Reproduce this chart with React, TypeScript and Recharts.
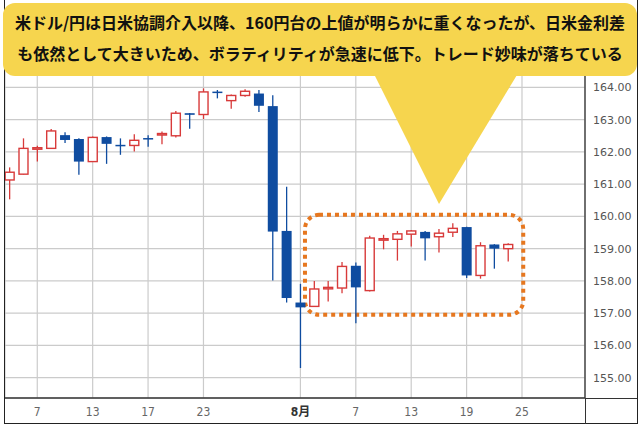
import { ComposedChart, Bar, XAxis, YAxis, CartesianGrid, ReferenceArea } from 'recharts';

const RED = '#d83a3a';
const BLUE = '#0f4ca0';
const ORANGE = '#e6771f';
const YELLOW = '#f6d54e';

// daily USD/JPY candles
const opens = [
  161.13, 161.31, 162.10, 162.11, 162.52, 162.40, 161.70, 162.46, 162.22, 162.20,
  162.43, 162.55, 162.50, 163.20, 163.16, 163.87, 163.59, 163.75, 163.81, 163.42,
  159.55, 157.33, 157.21, 157.78, 157.78, 158.47, 157.70, 159.29, 159.29, 159.45,
  159.52, 159.37, 159.51, 159.67, 158.17, 159.13, 159.00,
];
const highs = [
  161.52, 162.42, 162.19, 162.71, 162.61, 162.42, 162.48, 162.48, 162.42, 162.55,
  162.52, 162.63, 163.27, 163.21, 163.97, 163.92, 163.78, 163.94, 163.92, 163.76,
  160.92, 157.91, 158.00, 158.00, 158.59, 158.57, 159.40, 159.43, 159.55, 159.58,
  159.55, 159.61, 159.79, 159.68, 159.20, 159.14, 159.17,
];
const lows = [
  160.53, 161.30, 161.70, 162.10, 162.28, 161.29, 161.69, 161.63, 161.91, 162.01,
  162.16, 162.24, 162.45, 162.72, 163.02, 163.66, 163.34, 163.71, 163.24, 158.01,
  157.33, 155.30, 157.20, 157.36, 157.62, 156.69, 157.67, 158.98, 158.63, 159.07,
  158.63, 158.88, 159.36, 158.09, 158.07, 158.38, 158.60,
];
const closes = [
  161.37, 162.11, 162.13, 162.65, 162.37, 161.70, 162.45, 162.25, 162.20, 162.36,
  162.41, 162.57, 163.20, 163.15, 163.86, 163.85, 163.75, 163.88, 163.43, 159.53,
  157.47, 157.18, 157.75, 157.80, 158.45, 157.80, 159.33, 159.31, 159.46, 159.55,
  159.32, 159.48, 159.63, 158.17, 159.09, 159.00, 159.13,
];

const xTickIdx = [2, 6, 10, 14, 21, 25, 29, 33, 37];
const xTickLabels = ['7', '13', '17', '23', '8月', '7', '13', '19', '25'];
const yTicks = [155, 156, 157, 158, 159, 160, 161, 162, 163, 164];

const data = opens.map((o, i) => ({
  idx: i,
  open: o,
  high: highs[i],
  low: lows[i],
  close: closes[i],
}));

const Candle = (props: any) => {
  let { x, y, width, height } = props;
  const { open, close, high, low } = props.payload;
  if (height < 0) {
    y = y + height;
    height = -height;
  }
  const up = close >= open;
  const color = up ? RED : BLUE;
  const cx = x + width / 2;
  const span = high - low;
  const ppu = span > 0 ? height / span : 0;
  const yOf = (v: number) => y + (high - v) * ppu;
  const top = yOf(Math.max(open, close));
  const bh = Math.max(yOf(Math.min(open, close)) - top, 1.5);
  return (
    <g>
      <line x1={cx} x2={cx} y1={y} y2={y + height} stroke={color} strokeWidth={1.3} />
      {up ? (
        <rect x={cx - 4.5} y={top} width={9} height={bh} fill="#fff" stroke={color} strokeWidth={1.4} />
      ) : (
        <rect x={cx - 5} y={top} width={10} height={bh} fill={color} />
      )}
    </g>
  );
};

const XTick = (props: any) => {
  const { x, y, payload } = props;
  const k = xTickIdx.indexOf(payload.value);
  const label = xTickLabels[k] ?? '';
  const month = label.includes('月');
  return (
    <text
      x={x}
      y={y}
      dy={10}
      textAnchor="middle"
      fontSize={12}
      fontFamily="'Liberation Sans Narrow', 'DejaVu Sans Condensed', 'Noto Sans CJK JP', sans-serif"
      fontWeight={month ? 600 : 400}
      fill={month ? '#333' : '#666'}
    >
      {label}
    </text>
  );
};

const DottedBox = (props: any) => {
  const { x, y, width, height } = props;
  return (
    <rect
      x={x}
      y={y}
      width={width}
      height={height}
      rx={14}
      ry={14}
      fill="none"
      stroke={ORANGE}
      strokeWidth={4}
      strokeDasharray="4 4"
    />
  );
};

export default function App() {
  return (
    <div style={{ position: 'absolute', left: 0, top: 0, width: 640, height: 427, background: '#fff', overflow: 'hidden' }}>
      <ComposedChart
        width={640}
        height={427}
        data={data}
        margin={{ top: 10, right: 3, bottom: 3, left: 5 }}
      >
        <CartesianGrid stroke="#cbcbcb" strokeWidth={1.2} />
        <XAxis
          dataKey="idx"
          type="number"
          domain={[-0.33, 41.55]}
          ticks={xTickIdx}
          interval={0}
          allowDataOverflow
          height={26}
          tick={<XTick />}
          tickLine={false}
          axisLine={{ stroke: '#333', strokeWidth: 1.3 }}
        />
        <YAxis
          orientation="right"
          type="number"
          domain={[154.37, 166.4]}
          ticks={yTicks}
          interval={0}
          allowDataOverflow
          width={52}
          tickLine={false}
          tickSize={6}
          tickMargin={2}
          tickFormatter={(v: number) => v.toFixed(2)}
          tick={{ fontSize: 11, fill: '#555', fontFamily: "'DejaVu Sans', sans-serif" }}
          axisLine={{ stroke: '#333', strokeWidth: 1.3 }}
        />
        <Bar
          dataKey={(d: any) => [d.low, d.high]}
          barSize={10}
          shape={<Candle />}
          isAnimationActive={false}
        />
        <ReferenceArea
          x1={21.33}
          x2={37.09}
          y1={156.95}
          y2={160.05}
          ifOverflow="visible"
          shape={<DottedBox />}
        />
      </ComposedChart>

      {/* frame */}
      <div style={{ position: 'absolute', left: 4, top: 0, width: 632, height: 423, borderLeft: '1.5px solid #222', borderRight: '1.5px solid #222', borderBottom: '1.5px solid #222', pointerEvents: 'none' }} />
      <div style={{ position: 'absolute', left: 585, top: 398, width: 52, height: 1.3, background: '#333' }} />
      <div style={{ position: 'absolute', left: 584.5, top: 398, width: 1.3, height: 26, background: '#333' }} />

      {/* callout */}
      <svg width={640} height={427} style={{ position: 'absolute', left: 0, top: 0, pointerEvents: 'none' }}>
        <polygon points="372,70 520,70 439,204" fill={YELLOW} />
      </svg>
      <div
        style={{
          position: 'absolute',
          left: 3,
          top: 3,
          width: 634,
          height: 73,
          background: YELLOW,
          borderRadius: 12,
          boxSizing: 'border-box',
          paddingTop: 4,
          textAlign: 'center',
          fontFamily: "'Noto Sans CJK JP', sans-serif",
          fontWeight: 700,
          fontSize: 16,
          lineHeight: '31px',
          color: '#111',
          whiteSpace: 'nowrap',
        }}
      >
        <div>米ドル/円は日米協調介入以降、160円台の上値が明らかに重くなったが、日米金利差</div>
        <div>も依然として大きいため、ボラティリティが急速に低下。トレード妙味が落ちている</div>
      </div>
    </div>
  );
}
